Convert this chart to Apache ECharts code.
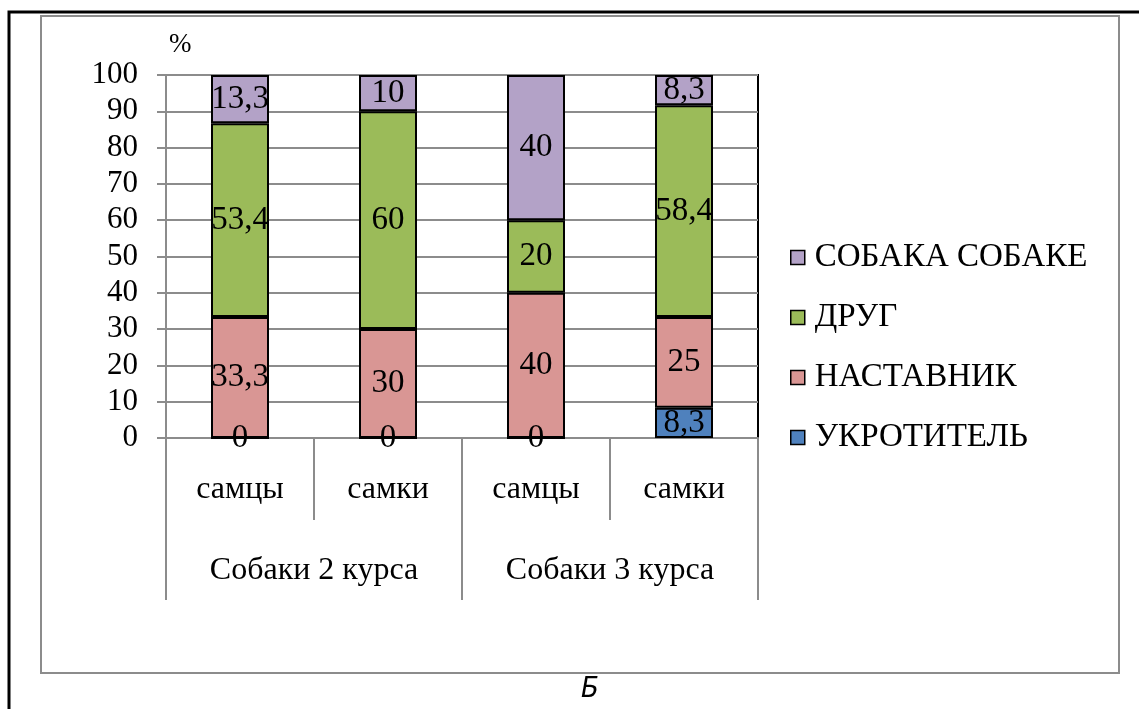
<!DOCTYPE html>
<html>
<head>
<meta charset="utf-8">
<script src="https://cdn.jsdelivr.net/npm/echarts@6/dist/echarts.min.js"></script>
<style>
  html, body { margin: 0; padding: 0; background: #fff; }
  #chart { width: 1139px; height: 709px; }
</style>
</head>
<body>
<div id="chart"></div>
<script>
// подписи категорий
var subCategories = ['самцы', 'самки', 'самцы', 'самки'];
var groups = ['Собаки 2 курса', 'Собаки 3 курса'];

// значения, %
var ukrotitel = [0, 0, 0, 8.3];
var nastavnik = [33.3, 30, 40, 25];
var drug = [53.4, 60, 20, 58.4];
var sobaka = [13.3, 10, 40, 8.3];

var legendOrder = ['СОБАКА СОБАКЕ', 'ДРУГ', 'НАСТАВНИК', 'УКРОТИТЕЛЬ'];

var serif = '"Liberation Serif", "DejaVu Serif", serif';
var gray = '#8c8c8c';

function barLabel() {
  return {
    show: true,
    position: 'inside',
    color: '#000',
    fontFamily: serif,
    fontSize: 33,
    formatter: function (p) { return String(p.value).replace('.', ','); }
  };
}

function makeSeries(name, data, color) {
  return {
    name: name,
    type: 'bar',
    stack: 'all',
    barWidth: 58,
    data: data,
    itemStyle: { color: color, borderColor: '#000', borderWidth: 2 },
    label: barLabel()
  };
}

var chart = echarts.init(document.getElementById('chart'));
var option = {
  animation: false,
  backgroundColor: '#fff',
  grid: {
    left: 166, right: 381, top: 75, bottom: 271,
    show: true, borderColor: '#000', borderWidth: 2, backgroundColor: 'transparent'
  },
  legend: {
    orient: 'vertical',
    left: 785, top: 236,
    itemGap: 27,
    itemWidth: 14, itemHeight: 14,
    icon: 'rect',
    data: legendOrder,
    textStyle: { fontFamily: serif, fontSize: 33, color: '#000', padding: [0, 0, 0, 5] },
    itemStyle: { borderColor: '#000', borderWidth: 1.5 }
  },
  graphic: [
    { type: 'polyline', shape: { points: [[9, 709], [9, 12], [1139, 12]] },
      style: { stroke: '#000', lineWidth: 3, fill: null } },
    { type: 'rect', shape: { x: 41, y: 16, width: 1078, height: 657 },
      style: { stroke: gray, lineWidth: 2, fill: null } },
    { type: 'text', left: 169, top: 31,
      style: { text: '%', fontFamily: serif, fontSize: 27, fill: '#000' } },
    { type: 'text', left: 581, top: 675,
      style: { text: 'Б', fontFamily: '"DejaVu Sans Condensed", "DejaVu Sans", sans-serif',
        fontStyle: 'italic', fontSize: 29, fill: '#000' } }
  ],
  xAxis: [
    {
      type: 'category',
      data: subCategories,
      position: 'bottom',
      axisLine: { show: true, lineStyle: { color: gray, width: 2 } },
      axisTick: { show: true, length: 82, lineStyle: { color: gray, width: 2 } },
      axisLabel: { margin: 36, fontFamily: serif, fontSize: 32, color: '#000' },
      splitLine: { show: false }
    },
    {
      type: 'category',
      data: groups,
      position: 'bottom',
      axisLine: { show: false },
      axisTick: { show: true, length: 162, lineStyle: { color: gray, width: 2 } },
      axisLabel: { margin: 117, fontFamily: serif, fontSize: 32, color: '#000' },
      splitLine: { show: false }
    }
  ],
  yAxis: {
    type: 'value',
    min: 0, max: 100, interval: 10,
    axisLine: { show: true, lineStyle: { color: gray, width: 2 } },
    axisTick: { show: true, length: 9, lineStyle: { color: gray, width: 2 } },
    axisLabel: { margin: 28, fontFamily: serif, fontSize: 31, color: '#000' },
    splitLine: { show: true, lineStyle: { color: gray, width: 2 } }
  },
  series: [
    makeSeries('УКРОТИТЕЛЬ', ukrotitel, '#4F81BD'),
    makeSeries('НАСТАВНИК', nastavnik, '#D99694'),
    makeSeries('ДРУГ', drug, '#9BBB59'),
    makeSeries('СОБАКА СОБАКЕ', sobaka, '#B3A2C7')
  ]
};
chart.setOption(option);
</script>
</body>
</html>
